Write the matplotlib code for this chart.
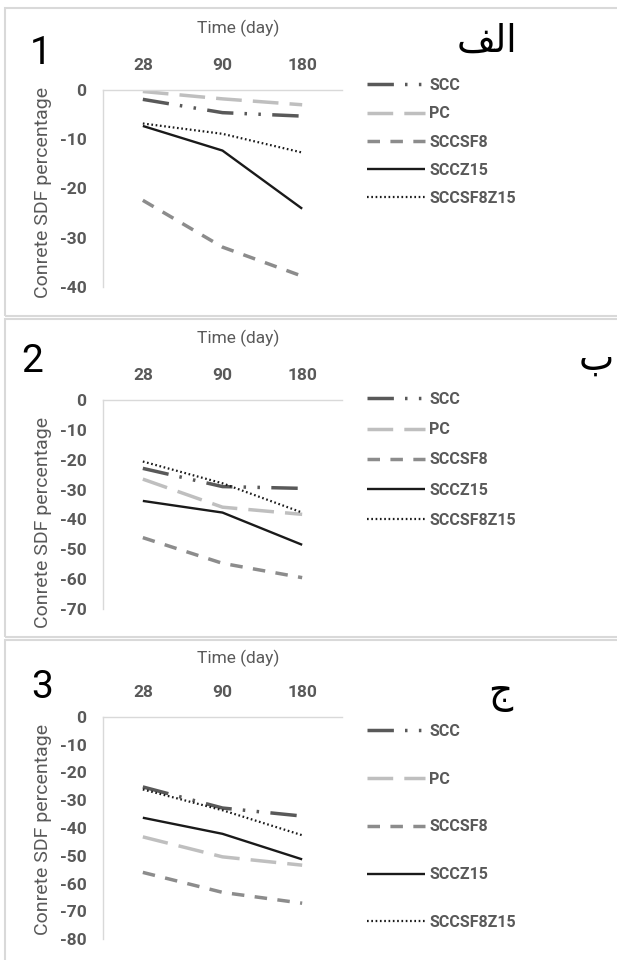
import matplotlib
matplotlib.use("Agg")
import matplotlib.pyplot as plt
from matplotlib.patches import Rectangle

plt.rcParams['font.family'] = ['Roboto', 'DejaVu Sans']
plt.rcParams['axes.unicode_minus'] = False
plt.rcParams['lines.scale_dashes'] = False

days = ['28', '90', '180']
names = ['SCC', 'PC', 'SCCSF8', 'SCCZ15', 'SCCSF8Z15']

# shrinkage (%) per mix, one list per mix and panel
scc_1 = [-1.9, -4.6, -5.3]
pc_1 = [-0.3, -1.8, -3.0]
sccsf8_1 = [-22.4, -31.9, -37.8]
sccz15_1 = [-7.3, -12.3, -24.1]
sccsf8z15_1 = [-6.8, -8.9, -12.7]

scc_2 = [-22.9, -29.0, -29.6]
pc_2 = [-26.5, -35.9, -38.3]
sccsf8_2 = [-46.1, -54.7, -59.5]
sccz15_2 = [-33.8, -37.7, -48.5]
sccsf8z15_2 = [-20.6, -27.9, -37.7]

scc_3 = [-25.2, -32.8, -35.7]
pc_3 = [-43.2, -50.4, -53.4]
sccsf8_3 = [-56.0, -63.2, -67.1]
sccz15_3 = [-36.3, -42.1, -51.3]
sccsf8z15_3 = [-26.1, -33.6, -42.6]

y_min = [-40, -70, -80]
numbers = ['1', '2', '3']
# Arabic letters, given in presentation forms because matplotlib does no shaping
letters = ['\ufed2\ufedf\ufe8d', '\u0628', '\u062c']

panel_data = [
    [scc_1, pc_1, sccsf8_1, sccz15_1, sccsf8z15_1],
    [scc_2, pc_2, sccsf8_2, sccz15_2, sccsf8z15_2],
    [scc_3, pc_3, sccsf8_3, sccz15_3, sccsf8z15_3],
]

colors = ['#595959', '#bfbfbf', '#8c8c8c', '#1a1a1a', '#1a1a1a']
widths = [2.5, 2.5, 2.5, 1.7, 1.6]
styles = [(0, (19, 8, 1.8, 8.2, 1.8, 8.2)), (0, (18.5, 8)), (0, (9, 7.5)), '-', (0, (1.2, 1.9))]

W, H = 617, 960
fig = plt.figure(figsize=(W / 100, H / 100), dpi=100)

def fx(px):
    return px / W

def fy(px):
    return 1 - px / H

# panel layout in pixels: frame top/bottom, axes top/bottom, label centres
frames = [(8, 316), (319, 637), (640, 990)]
axes_tb = [(90, 287), (400, 609), (717, 939)]
title_y = [28, 338, 658]
ylabel_y = [192, 522, 829]
num_xy = [(41, 53), (32, 362), (42, 687)]
letter_xy = [(487, 42), (596, 360), (500, 694)]
legend_top = [78, 392, 724]
legend_gap = [0.83, 0.95, 2.05]

grey = '#595959'

for i in range(3):
    top, bot = frames[i]
    fig.add_artist(Rectangle((fx(5), fy(bot)), 1.2, (bot - top) / H,
                             transform=fig.transFigure, fill=False,
                             edgecolor='#d9d9d9', linewidth=1.5))

    at, ab = axes_tb[i]
    ax = fig.add_axes([fx(103), fy(ab), fx(342) - fx(103), (ab - at) / H])

    for vals, name, c, lw, ls in zip(panel_data[i], names, colors, widths, styles):
        ax.plot(range(len(days)), vals, color=c, linewidth=lw, linestyle=ls,
                label=name, dash_capstyle='butt', solid_capstyle='butt')

    ax.set_xlim(-0.5, len(days) - 0.5)
    ax.set_ylim(y_min[i], 0)
    ax.set_xticks(range(len(days)))
    ax.set_xticklabels(days)
    ax.set_yticks(range(0, y_min[i] - 1, -10))
    ax.xaxis.tick_top()
    ax.tick_params(length=0, labelsize=12.5, labelcolor=grey, pad=12)
    for lab in ax.get_xticklabels() + ax.get_yticklabels():
        lab.set_fontweight('bold')
    for side in ['right', 'bottom']:
        ax.spines[side].set_visible(False)
    for side in ['left', 'top']:
        ax.spines[side].set_color('#d9d9d9')
        ax.spines[side].set_linewidth(1)

    fig.text(fx(238), fy(title_y[i]), 'Time (day)', ha='center', va='center',
             fontsize=12.5, color=grey)
    fig.text(fx(43), fy(ylabel_y[i]), 'Conrete SDF percentage', rotation=90,
             ha='center', va='center', fontsize=14, color=grey)
    fig.text(fx(num_xy[i][0]), fy(num_xy[i][1]), numbers[i], ha='center',
             va='center', fontsize=28, color='black')
    fig.text(fx(letter_xy[i][0]), fy(letter_xy[i][1]), letters[i], ha='center',
             va='center', fontsize=27, color='black', family='DejaVu Sans')

    leg = ax.legend(loc='upper left', bbox_to_anchor=(fx(367), fy(legend_top[i])),
                    bbox_transform=fig.transFigure, frameon=False, borderpad=0,
                    borderaxespad=0, handlelength=3.6, handletextpad=0.3,
                    labelspacing=legend_gap[i],
                    prop={'size': 11.5, 'weight': 'bold'})
    for t in leg.get_texts():
        t.set_color(grey)

fig.savefig('out.png', dpi=100)
